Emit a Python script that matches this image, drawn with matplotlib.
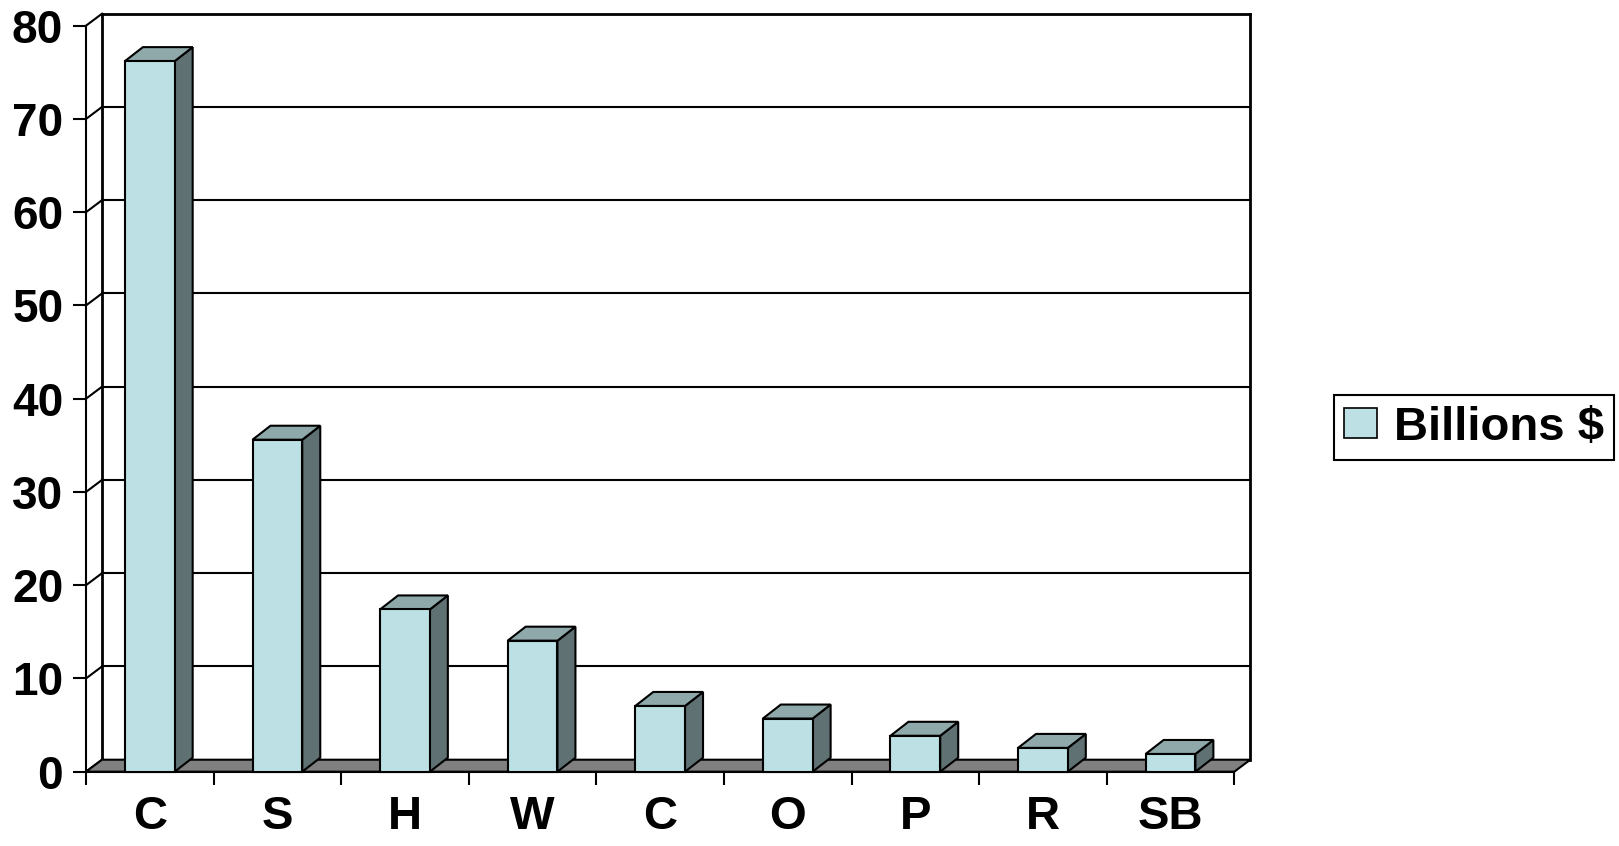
import matplotlib
matplotlib.use("Agg")
import matplotlib.pyplot as plt
from matplotlib.patches import Polygon, Patch

# === Data ===
categories = ["C", "S", "H", "W", "C", "O", "P", "R", "SB"]
values = [76.2, 35.6, 17.4, 14.05, 7.05, 5.7, 3.85, 2.55, 1.9]
series_name = "Billions $"
y_ticks = [0, 10, 20, 30, 40, 50, 60, 70, 80]

# === Style ===
plt.rcParams['font.family'] = ['Liberation Sans', 'DejaVu Sans']
plt.rcParams['font.weight'] = 'bold'

FRONT = '#bce0e3'
TOP = '#8fa9aa'
SIDE = '#5f7173'
FLOOR = '#808080'
LW = 1.5

W, H = 1619, 846
fig = plt.figure(figsize=(W / 100, H / 100), dpi=100)
fig.patch.set_facecolor('white')

# plot area (front plane) in figure fractions
left, bottom, width, height = 86 / W, 74.3 / H, 1148.3 / W, 746 / H
ax = fig.add_axes([left, bottom, width, height])

n = len(categories)
ax.set_xlim(0, n)
ax.set_ylim(0, 80)

# depth offsets: pixels -> data units
px_x = n / (width * W)
px_y = 80 / (height * H)
wall_dx, wall_dy = 16 * px_x, 12 * px_y
bar_dx, bar_dy = 18 * px_x, 14 * px_y

# back wall: gridlines, edges and the diagonal connectors to the front axis
for v in y_ticks[1:]:
    ax.plot([wall_dx, n + wall_dx], [v + wall_dy, v + wall_dy],
            color='black', lw=LW if v < 80 else 2, zorder=1, clip_on=False)
for xv in (wall_dx, n + wall_dx):
    ax.plot([xv, xv], [wall_dy, 80 + wall_dy], color='black', lw=2,
            zorder=1, clip_on=False)
for v in y_ticks:
    ax.plot([0, wall_dx], [v, v + wall_dy], color='black', lw=LW,
            zorder=1, clip_on=False)

# floor
ax.add_patch(Polygon([(0, 0), (n, 0), (n + wall_dx, wall_dy), (wall_dx, wall_dy)],
                     closed=True, facecolor=FLOOR, edgecolor='black', lw=LW,
                     zorder=2, clip_on=False))

# 3D bars
bw = 0.39
xs = [i + 0.5 for i in range(n)]
ax.bar(xs, values, width=bw, color=FRONT, edgecolor='black', lw=LW, zorder=4,
       clip_on=False)
for x, v in zip(xs, values):
    r = x + bw / 2
    l = x - bw / 2
    ax.add_patch(Polygon([(r, 0), (r + bar_dx, bar_dy), (r + bar_dx, v + bar_dy), (r, v)],
                         closed=True, facecolor=SIDE, edgecolor='black', lw=LW,
                         zorder=3, clip_on=False))
    ax.add_patch(Polygon([(l, v), (r, v), (r + bar_dx, v + bar_dy), (l + bar_dx, v + bar_dy)],
                         closed=True, facecolor=TOP, edgecolor='black', lw=LW,
                         zorder=3, clip_on=False))

# axes
for s in ('top', 'right'):
    ax.spines[s].set_visible(False)
ax.spines['left'].set_linewidth(LW)
ax.spines['bottom'].set_linewidth(LW)
ax.spines['left'].set_zorder(5)

ax.set_yticks(y_ticks)
ax.set_yticklabels([str(t) for t in y_ticks])
ax.tick_params(axis='y', length=9.4, width=LW, pad=7, labelsize=33)

ax.set_xticks(range(n + 1))
ax.set_xticklabels([])
ax.set_xticks(xs, minor=True)
ax.set_xticklabels(categories, minor=True)
ax.tick_params(axis='x', which='major', length=9, width=LW)
ax.tick_params(axis='x', which='minor', length=0, pad=17, labelsize=34)
ax.set_facecolor('none')

# legend
leg = fig.legend(handles=[Patch(facecolor=FRONT, edgecolor='black', lw=1.2)],
                 labels=[series_name], loc='center',
                 bbox_to_anchor=(1474 / W, 1 - 427.7 / H), fontsize=34,
                 handlelength=0.68, handleheight=0.6, handletextpad=0.36,
                 borderpad=0.22, fancybox=False, framealpha=1)
leg.get_frame().set_edgecolor('black')
leg.get_frame().set_linewidth(1.5)

fig.savefig('out.png', dpi=100)
